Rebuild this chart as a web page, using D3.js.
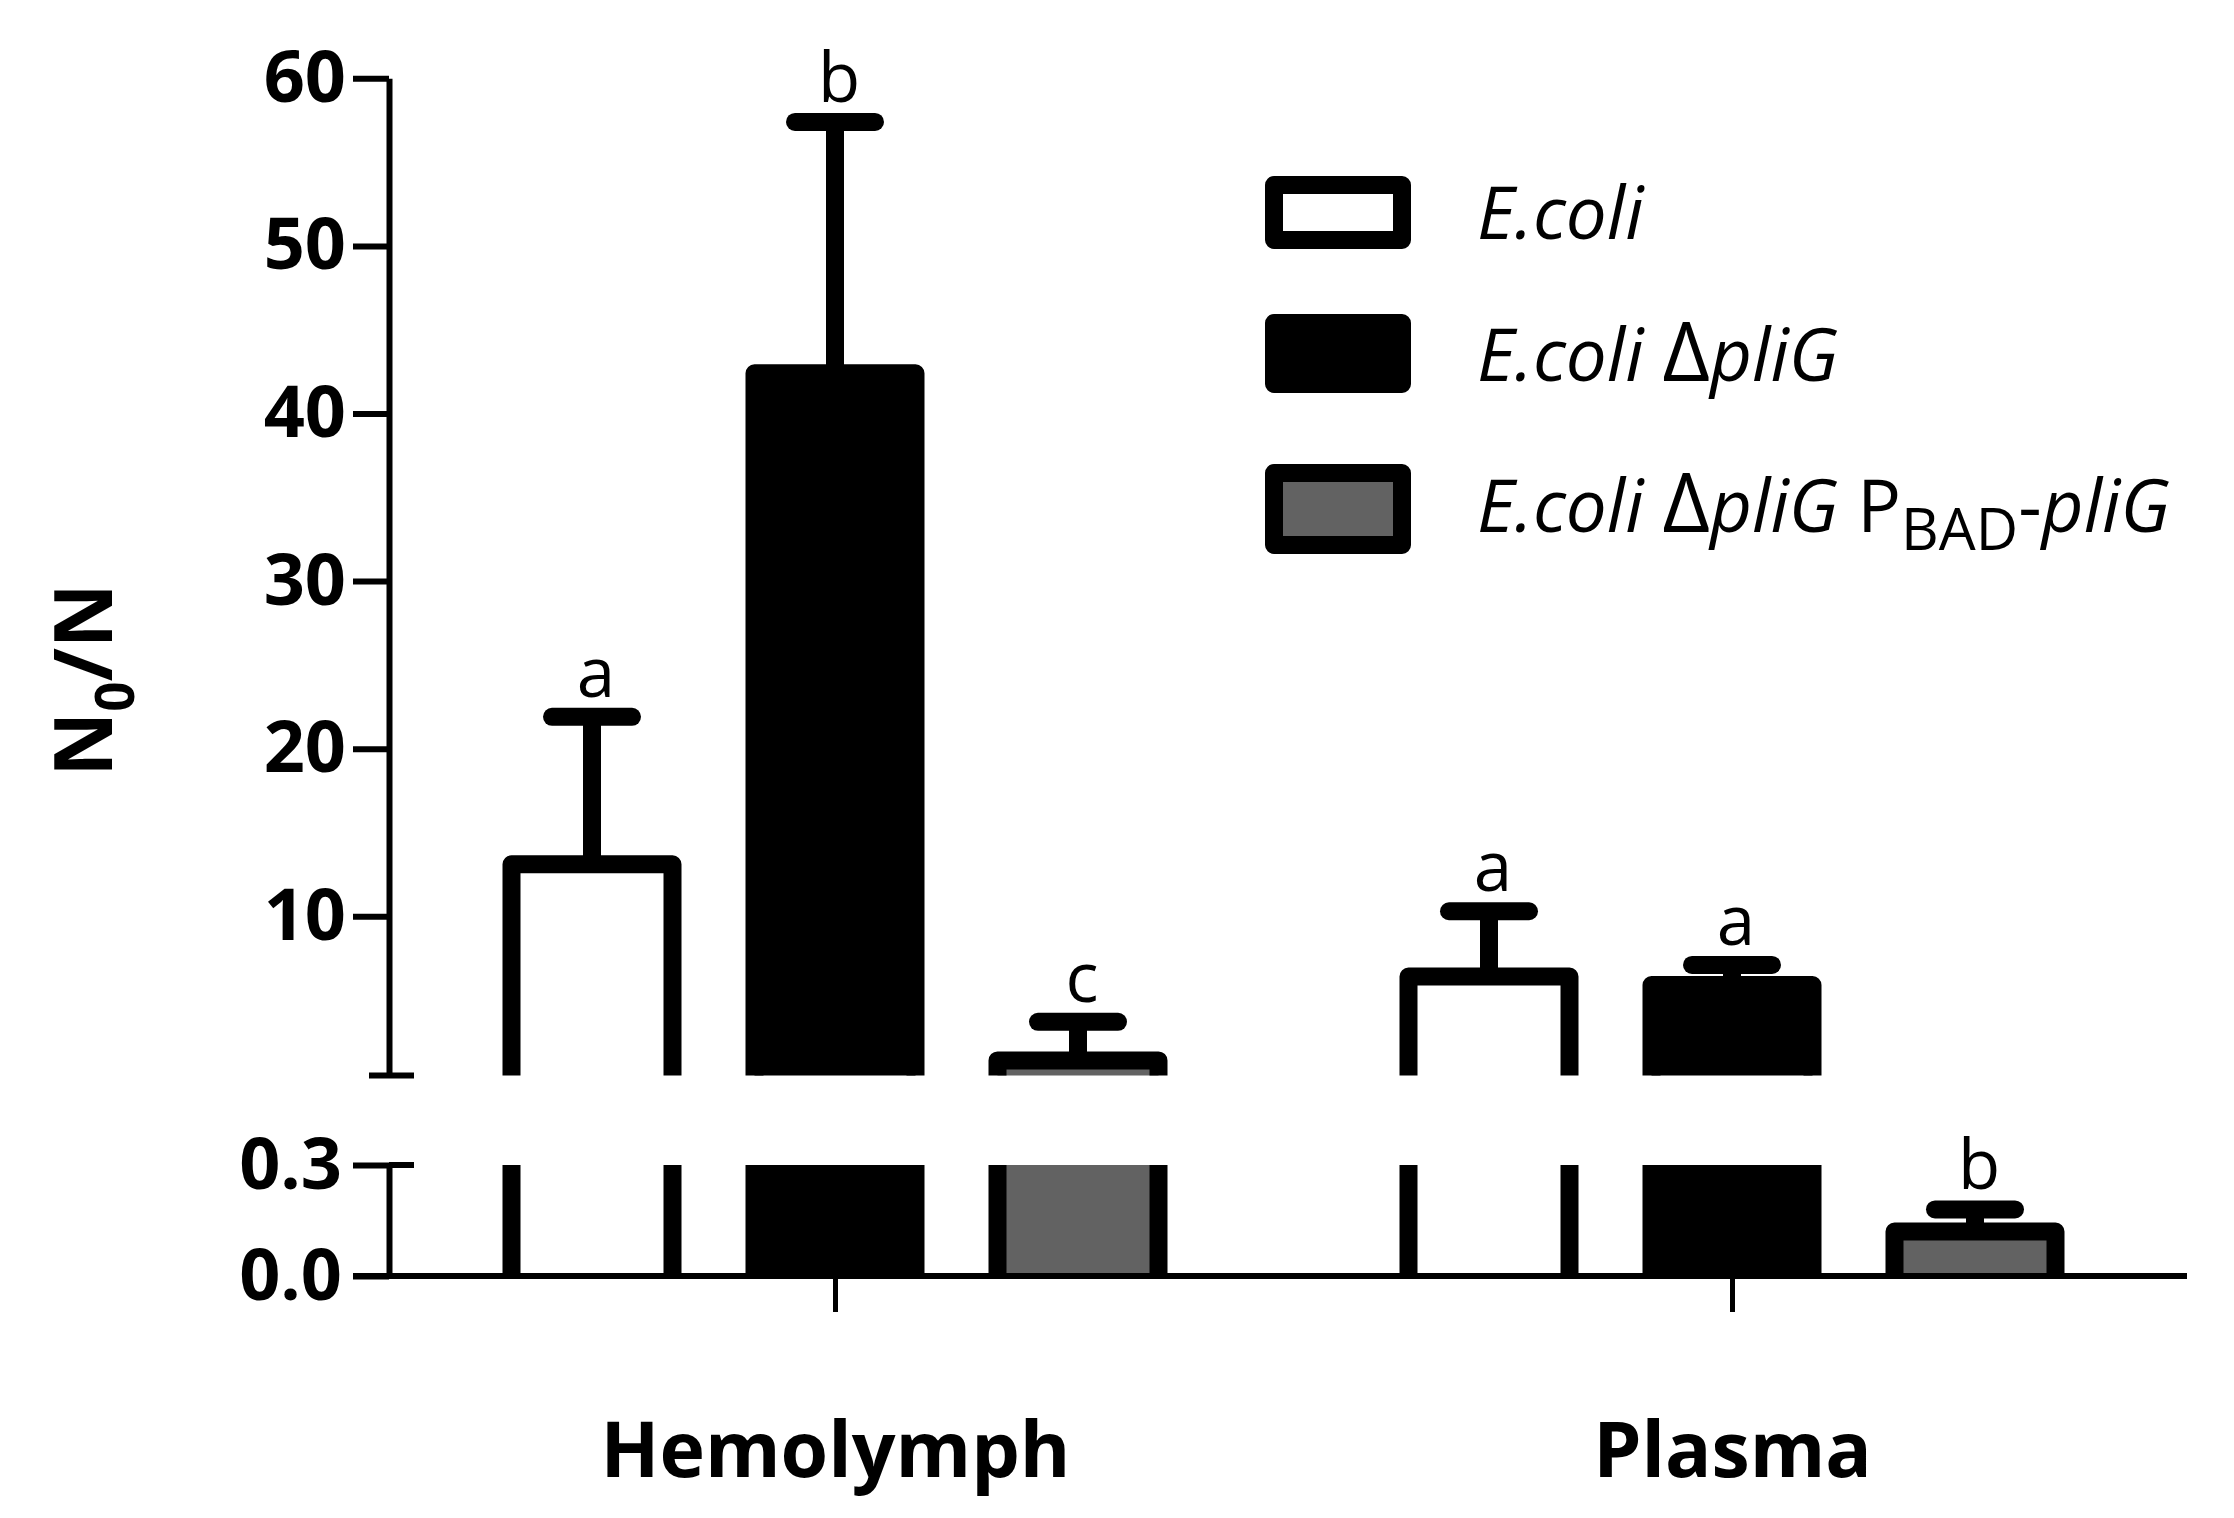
<!DOCTYPE html>
<html>
<head>
<meta charset="utf-8">
<script src="https://cdn.jsdelivr.net/npm/d3@7"></script>
<style>
  html, body { margin: 0; padding: 0; background: #fff; }
  svg { display: block; font-family: 'Open Sans', 'Noto Sans', sans-serif; }
</style>
</head>
<body>
<script>
// ---------------- data ----------------
const groups = ["Hemolymph", "Plasma"];
const seriesNames = ["E.coli", "E.coli \u0394pliG", "E.coli \u0394pliG PBAD-pliG"];
const hemolymphMeans = [13.1, 42.4, 1.4];
const hemolymphErrors = [8.8, 15.0, 2.3];
const hemolymphLetters = ["a", "b", "c"];
const plasmaMeans = [6.4, 5.9, 0.12];
const plasmaErrors = [3.9, 1.2, 0.06];
const plasmaLetters = ["a", "a", "b"];
const upperTicks = [10, 20, 30, 40, 50, 60];
const lowerTicks = [0.0, 0.3];
const seriesColors = ["#ffffff", "#000000", "#626262"];

// ---------------- layout ----------------
const W = 2234, H = 1518;
const SW = 18;          // bar / legend stroke width
const BAR_W = 161;      // bar width (stroke-centred)
const CAP_HALF = 40;    // error cap half-length

const svg = d3.select("body").append("svg")
  .attr("width", W).attr("height", H);

const xGroup = d3.scalePoint().domain(groups).range([835, 1732]);
const xInner = d3.scalePoint().domain(d3.range(seriesNames.length)).range([-243, 243]);
const yUp = d3.scaleLinear().domain([0.5, 60]).range([1075.5, 78.3]);
const yLo = d3.scaleLinear().domain([0, 0.3]).range([1276, 1165]);
const segments = [
  { scale: yUp, lo: 0.5, hi: 60 },
  { scale: yLo, lo: 0, hi: 0.3 }
];

const bars = [];
groups.forEach((g, gi) => {
  const means = gi === 0 ? hemolymphMeans : plasmaMeans;
  const errs = gi === 0 ? hemolymphErrors : plasmaErrors;
  const lets = gi === 0 ? hemolymphLetters : plasmaLetters;
  means.forEach((m, i) => bars.push({ group: g, i, mean: m, err: errs[i], letter: lets[i] }));
});

const gBars = svg.append("g");
bars.forEach(d => {
  const cx = xGroup(d.group) + xInner(d.i);
  const l = cx - BAR_W / 2, r = cx + BAR_W / 2;
  segments.forEach(seg => {
    if (d.mean <= seg.lo) return;
    const topV = Math.min(d.mean, seg.hi);
    const yTop = seg.scale(topV), yBot = seg.scale(seg.lo);
    gBars.append("rect")
      .attr("x", l).attr("y", yTop)
      .attr("width", BAR_W).attr("height", yBot - yTop)
      .attr("fill", seriesColors[d.i]);
    const closed = d.mean <= seg.hi;
    const p = closed
      ? `M${l},${yBot}V${yTop}H${r}V${yBot}`
      : `M${l},${yBot}V${yTop}M${r},${yTop}V${yBot}`;
    gBars.append("path").attr("d", p)
      .attr("fill", "none").attr("stroke", "#000")
      .attr("stroke-width", SW).attr("stroke-linejoin", "round");
  });
  // error bar + letter in the segment that holds the mean
  const seg = d.mean > 0.3 ? segments[0] : segments[1];
  const y0 = seg.scale(d.mean), y1 = seg.scale(d.mean + d.err);
  gBars.append("line").attr("x1", cx).attr("x2", cx).attr("y1", y0).attr("y2", y1)
    .attr("stroke", "#000").attr("stroke-width", SW);
  gBars.append("line").attr("x1", cx - CAP_HALF).attr("x2", cx + CAP_HALF)
    .attr("y1", y1).attr("y2", y1)
    .attr("stroke", "#000").attr("stroke-width", SW).attr("stroke-linecap", "round");
  gBars.append("text").attr("x", cx + 4).attr("y", y1 - 20)
    .attr("text-anchor", "middle").attr("font-size", 69).text(d.letter);
});

// ---------------- axes ----------------
const AXIS_X = 389;
const styleAxis = (g) => {
  g.selectAll("path.domain").attr("stroke", "#000").attr("stroke-width", 6);
  g.selectAll(".tick line").attr("stroke", "#000").attr("stroke-width", 6);
  g.selectAll(".tick text").attr("font-size", 72).attr("font-weight", 700)
    .attr("fill", "#000").attr("font-family", "'Open Sans', sans-serif");
};
const axUp = svg.append("g").attr("transform", `translate(${AXIS_X},0)`)
  .call(d3.axisLeft(yUp).tickValues(upperTicks).tickFormat(d3.format("d"))
    .tickSize(36).tickSizeOuter(0).tickPadding(7));
styleAxis(axUp);
const axLo = svg.append("g").attr("transform", `translate(${AXIS_X},0)`)
  .call(d3.axisLeft(yLo).tickValues(lowerTicks).tickFormat(d3.format(".1f"))
    .tickSize(36).tickSizeOuter(0).tickPadding(11));
styleAxis(axLo);
// break marks
svg.append("line").attr("x1", AXIS_X - 20).attr("x2", AXIS_X + 25)
  .attr("y1", yUp(0.5)).attr("y2", yUp(0.5)).attr("stroke", "#000").attr("stroke-width", 6);
svg.append("line").attr("x1", AXIS_X).attr("x2", AXIS_X + 25)
  .attr("y1", yLo(0.3)).attr("y2", yLo(0.3)).attr("stroke", "#000").attr("stroke-width", 6);
// x axis
svg.append("line").attr("x1", AXIS_X - 36).attr("x2", 2187)
  .attr("y1", yLo(0)).attr("y2", yLo(0)).attr("stroke", "#000").attr("stroke-width", 6);
const axX = svg.append("g").attr("transform", `translate(0,${yLo(0)})`)
  .call(d3.axisBottom(xGroup).tickSize(36).tickPadding(110));
axX.select("path.domain").remove();
axX.selectAll(".tick line").attr("stroke", "#000").attr("stroke-width", 5);
axX.selectAll(".tick text").attr("font-size", 77).attr("font-weight", 700)
  .attr("fill", "#000").attr("font-family", "'Open Sans', sans-serif");

// y title
const yt = svg.append("text")
  .attr("transform", "translate(112,680) rotate(-90)")
  .attr("text-anchor", "middle").attr("font-size", 80).attr("font-weight", 700);
yt.append("tspan").text("N");
yt.append("tspan").attr("font-size", 53).attr("dy", 22).text("0");
yt.append("tspan").attr("dy", -22).text("/N");

// ---------------- legend ----------------
const legendCenters = [212.5, 353.5, 509];
const legendBoxH = [55, 61, 72];
const legendBaselines = [239, 381, 532];
const lg = svg.append("g");
const legendTexts = [];
seriesNames.forEach((name, i) => {
  lg.append("rect").attr("x", 1274).attr("y", legendCenters[i] - legendBoxH[i] / 2)
    .attr("width", 128).attr("height", legendBoxH[i])
    .attr("fill", seriesColors[i]).attr("stroke", "#000")
    .attr("stroke-width", SW).attr("stroke-linejoin", "round");
  const t = lg.append("text").attr("x", 1477).attr("y", legendBaselines[i])
    .attr("font-size", 71).attr("font-style", "italic");
  t.append("tspan").text("E.coli ");
  if (i >= 1) {
    t.append("tspan").attr("font-style", "normal").attr("font-size", 80).text("\u0394");
    t.append("tspan").text("pliG");
  }
  if (i === 2) {
    t.append("tspan").attr("font-style", "normal").text(" P");
    t.append("tspan").attr("font-style", "normal").attr("font-size", 57).attr("dy", 18).text("BAD");
    t.append("tspan").attr("font-style", "normal").attr("dy", -18).text("-");
    t.append("tspan").text("pliG");
  }
  legendTexts.push(t);
});
// fit legend font so the longest entry spans the reference width
const target = 693;
const len = legendTexts[2].node().getComputedTextLength();
if (len > 0) {
  const k = target / len;
  legendTexts.forEach(t => {
    t.attr("font-size", 71 * k);
    t.selectAll("tspan").each(function () {
      const fs = d3.select(this).attr("font-size");
      if (fs) d3.select(this).attr("font-size", +fs * k);
    });
  });
}
</script>
</body>
</html>
